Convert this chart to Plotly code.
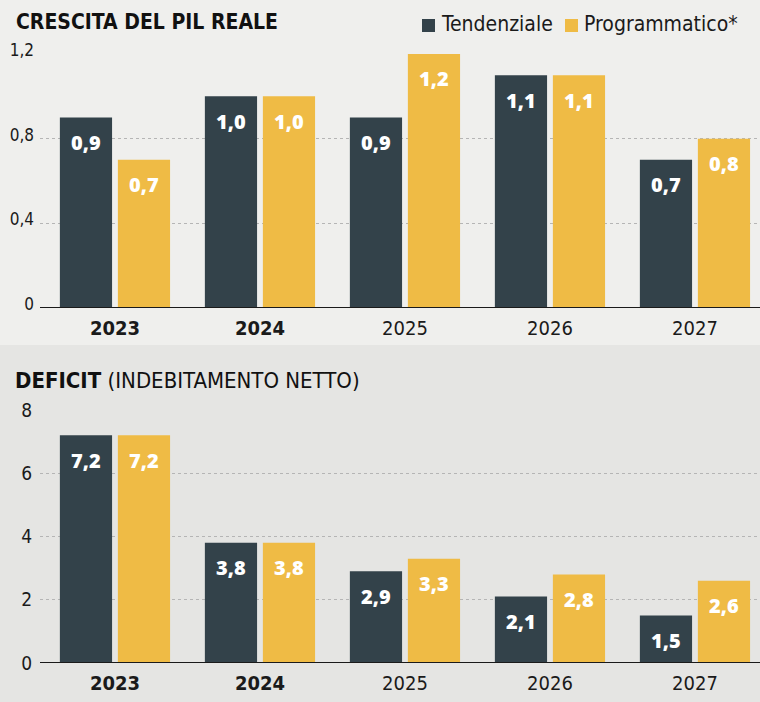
import plotly.graph_objects as go

years = ["2023", "2024", "2025", "2026", "2027"]
year_labels = ["<b>2023</b>", "<b>2024</b>", "2025", "2026", "2027"]
pil_tend = [0.9, 1.0, 0.9, 1.1, 0.7]
pil_prog = [0.7, 1.0, 1.2, 1.1, 0.8]
def_tend = [7.2, 3.8, 2.9, 2.1, 1.5]
def_prog = [7.2, 3.8, 3.3, 2.8, 2.6]
pil_ticks = [0, 0.4, 0.8, 1.2]
def_ticks = [0, 2, 4, 6, 8]

DARK = "#33424a"
YELLOW = "#efbb45"
COND = "Liberation Sans Narrow, DejaVu Sans Condensed, Roboto, sans-serif"
LABF = "Open Sans, Lato, sans-serif"

W, H = 760, 702
L = 40
PW = W - L
xs = list(range(len(years)))
BW = 0.36

fig = go.Figure()

def add_pair(tend, prog, xa, ya):
    fig.add_trace(go.Bar(x=xs, y=tend, width=BW, offset=-0.38, marker_color=DARK,
                         marker_line_width=0, xaxis=xa, yaxis=ya, name="Tendenziale",
                         showlegend=False, hoverinfo="skip"))
    fig.add_trace(go.Bar(x=xs, y=prog, width=BW, offset=0.02, marker_color=YELLOW,
                         marker_line_width=0, xaxis=xa, yaxis=ya, name="Programmatico*",
                         showlegend=False, hoverinfo="skip"))
    for i in xs:
        for v, dx in ((tend[i], -0.20), (prog[i], 0.20)):
            fig.add_annotation(x=i + dx, y=v, xref=xa, yref=ya, yshift=-25,
                               text=f"{v:.1f}".replace(".", ","), showarrow=False,
                               font=dict(family=LABF, size=20, color="white", weight=800),
                               xanchor="center", yanchor="middle")

add_pair(pil_tend, pil_prog, "x", "y")
add_pair(def_tend, def_prog, "x2", "y2")

xr = [-0.517, -0.517 + PW / 145]
axis_common = dict(range=xr, tickmode="array", tickvals=xs, ticktext=year_labels,
                   showgrid=False, zeroline=False, showline=False, ticks="", automargin=False,
                   tickfont=dict(family=COND, size=20, color="#1a1a1a"))
fig.update_layout(
    xaxis=dict(domain=[0, 1], anchor="y", ticklabelstandoff=6, **axis_common),
    xaxis2=dict(domain=[0, 1], anchor="y2", ticklabelstandoff=6, **axis_common),
    yaxis=dict(domain=[1 - 308 / H, 1 - 54 / H], range=[0, 1.2], anchor="x",
               tickvals=pil_ticks, ticktext=[f"{t:g}".replace(".", ",") for t in pil_ticks],
               showgrid=True, gridcolor="#b5b5b5", griddash="dot", gridwidth=1,
               zeroline=False, showline=False, ticks="", ticklabelshift=-4,
               ticklabelstandoff=5, automargin=False,
               tickfont=dict(family=COND, size=17, color="#1a1a1a")),
    yaxis2=dict(domain=[1 - 663 / H, 1 - 410 / H], range=[0, 8], anchor="x2",
                tickvals=def_ticks, ticktext=[str(t) for t in def_ticks],
                showgrid=True, gridcolor="#b5b5b5", griddash="dot", gridwidth=1,
                zeroline=False, showline=False, ticks="", ticklabelstandoff=7,
                automargin=False,
                tickfont=dict(family=COND, size=19, color="#1a1a1a")),
    barmode="overlay",
    width=W, height=H,
    margin=dict(l=L, r=0, t=0, b=0, pad=0),
    paper_bgcolor="#efefed", plot_bgcolor="rgba(0,0,0,0)",
    showlegend=False,
)

# slightly darker paper for lower panel
fig.add_shape(type="rect", xref="paper", yref="paper", x0=-L / PW, x1=1.0,
              y0=-0.01, y1=1 - 345 / H, fillcolor="#e5e5e3", line_width=0, layer="below")

# baseline axis lines
for ya in ("y", "y2"):
    fig.add_shape(type="line", xref="paper", yref=ya, x0=0, x1=1, y0=0, y1=0,
                  line=dict(color="#1a1a1a", width=2))

# titles
fig.add_annotation(xref="paper", yref="paper", x=(14 - L) / PW, y=1 - 22 / H, xanchor="left",
                   yanchor="middle", showarrow=False, text="<b>CRESCITA DEL PIL REALE</b>",
                   font=dict(family=COND, size=21, color="#111111"))
fig.add_annotation(xref="paper", yref="paper", x=(13 - L) / PW, y=1 - 381 / H, xanchor="left",
                   yanchor="middle", showarrow=False,
                   text="<b>DEFICIT</b> (INDEBITAMENTO NETTO)",
                   font=dict(family=COND, size=22, color="#111111"))

# legend
for sx, col, label in ((422, DARK, "Tendenziale"), (565, YELLOW, "Programmatico*")):
    fig.add_shape(type="rect", xref="paper", yref="paper",
                  x0=(sx - L) / PW, x1=(sx - L + 13) / PW,
                  y0=1 - 32 / H, y1=1 - 19 / H, fillcolor=col, line_width=0)
    fig.add_annotation(xref="paper", yref="paper", x=(sx - L + 17) / PW, y=1 - 24 / H,
                       xanchor="left", yanchor="middle", showarrow=False, text=label,
                       font=dict(family=COND, size=21, color="#1a1a1a"))

fig.write_html("out.html", config={"displayModeBar": False},
               post_script="document.body.style.margin='0';document.body.style.padding='0';")
